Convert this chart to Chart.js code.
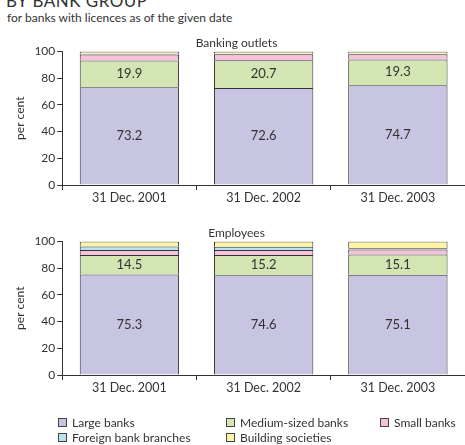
<!DOCTYPE html>
<html>
<head>
<meta charset="utf-8">
<script src="https://cdn.jsdelivr.net/npm/chart.js@4/dist/chart.umd.min.js"></script>
<style>
  body { margin: 0; width: 465px; height: 445px; background: #fff; font-family: Lato, sans-serif; color: #333; position: relative; overflow: hidden; }
  .title { position: absolute; left: 6px; top: -10px; font-size: 17px; letter-spacing: 0.5px; }
  .subtitle { position: absolute; left: 7px; top: 10px; font-size: 12px; }
  .chartbox { position: absolute; left: 0; width: 465px; }
  #legend { position: absolute; left: 0; top: 415px; width: 465px; height: 30px; font-size: 12px; }
  .item { position: absolute; display: flex; align-items: center; white-space: nowrap; }
  .swatch { width: 7px; height: 7px; border: 1px solid #444; margin-right: 5px; }
</style>
</head>
<body>
<div class="title">BY BANK GROUP</div>
<div class="subtitle">for banks with licences as of the given date</div>
<div class="chartbox" style="top:0;height:205px"><canvas id="outlets"></canvas></div>
<div class="chartbox" style="top:190px;height:205px"><canvas id="employees"></canvas></div>
<div id="legend"></div>
<script>
const FONT = 'Lato, sans-serif';
const categories = ['31 Dec. 2001', '31 Dec. 2002', '31 Dec. 2003'];
const groupNames = ['Large banks', 'Medium-sized banks', 'Small banks', 'Foreign bank branches', 'Building societies'];
const groupColors = ['#c8c5e2', '#d3e5b3', '#f5c2da', '#b9e2f2', '#fff3a6'];

// Banking outlets, per cent
const outletsLarge = [73.2, 72.6, 74.7];
const outletsMedium = [19.9, 20.7, 19.3];
const outletsSmall = [4.6, 4.5, 3.9];
const outletsForeign = [0.5, 0.5, 0.4];
const outletsBuilding = [1.8, 1.7, 1.7];

// Employees, per cent
const employeesLarge = [75.3, 74.6, 75.1];
const employeesMedium = [14.5, 15.2, 15.1];
const employeesSmall = [3.8, 3.8, 3.8];
const employeesForeign = [2.6, 2.4, 0.8];
const employeesBuilding = [3.8, 4.0, 5.2];

const yTicks = [0, 20, 40, 60, 80, 100];

const valueLabels = {
    id: 'valueLabels',
    afterDatasetsDraw(chart) {
        const ctx = chart.ctx;
        ctx.save();
        ctx.font = '13px ' + FONT;
        ctx.fillStyle = '#333';
        ctx.textAlign = 'center';
        ctx.textBaseline = 'middle';
        [0, 1].forEach((di) => {
            const meta = chart.getDatasetMeta(di);
            meta.data.forEach((bar, i) => {
                const p = bar.getProps(['x', 'y', 'base'], true);
                ctx.fillText(chart.data.datasets[di].data[i].toFixed(1), p.x, (p.y + p.base) / 2);
            });
        });
        ctx.restore();
    }
};

function makeChart(id, title, series, topPad) {
    new Chart(document.getElementById(id), {
        type: 'bar',
        data: {
            labels: categories,
            datasets: series.map((values, i) => ({
                label: groupNames[i],
                data: values,
                backgroundColor: groupColors[i],
                borderColor: '#333',
                borderWidth: 1,
                barPercentage: 0.74,
                categoryPercentage: 1
            }))
        },
        options: {
            animation: false,
            responsive: true,
            maintainAspectRatio: false,
            layout: { padding: { top: topPad, right: 0, left: 8, bottom: 0 } },
            plugins: {
                legend: { display: false },
                tooltip: { enabled: false },
                title: {
                    display: true,
                    text: title,
                    color: '#333',
                    font: { family: FONT, size: 12, weight: 'normal' },
                    padding: { top: 0, bottom: 1 }
                }
            },
            scales: {
                x: {
                    stacked: true,
                    grid: { offset: true, drawOnChartArea: false, color: '#333', tickLength: 5 },
                    border: { color: '#333', width: 1 },
                    ticks: { color: '#333', font: { family: FONT, size: 12.5 }, padding: 0 }
                },
                y: {
                    stacked: true,
                    min: 0,
                    max: 100,
                    afterBuildTicks: (axis) => { axis.ticks = yTicks.map((v) => ({ value: v })); },
                    grid: { drawOnChartArea: false, color: '#333', tickLength: 5 },
                    border: { color: '#333', width: 1 },
                    ticks: { color: '#333', font: { family: FONT, size: 12 }, padding: 2 },
                    title: { display: true, text: 'per cent', color: '#333', font: { family: FONT, size: 12 }, padding: 5 }
                }
            }
        },
        plugins: [valueLabels]
    });
}

makeChart('outlets', 'Banking outlets',
    [outletsLarge, outletsMedium, outletsSmall, outletsForeign, outletsBuilding], 36);
makeChart('employees', 'Employees',
    [employeesLarge, employeesMedium, employeesSmall, employeesForeign, employeesBuilding], 36);

// legend, laid out in the same grid as the reference
const legendPos = [[58, 0], [226, 0], [380, 0], [58, 15], [226, 15]];
const legend = document.getElementById('legend');
groupNames.forEach((name, i) => {
    const item = document.createElement('div');
    item.className = 'item';
    item.style.left = legendPos[i][0] + 'px';
    item.style.top = legendPos[i][1] + 'px';
    const sw = document.createElement('span');
    sw.className = 'swatch';
    sw.style.background = groupColors[i];
    item.appendChild(sw);
    item.appendChild(document.createTextNode(name));
    legend.appendChild(item);
});
</script>
</body>
</html>
